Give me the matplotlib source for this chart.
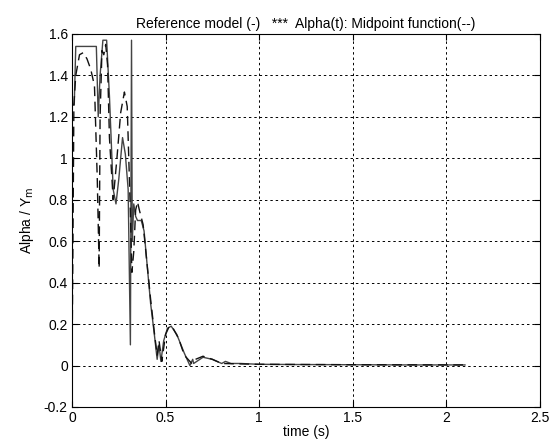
import matplotlib
matplotlib.use('Agg')
import matplotlib.pyplot as plt
import numpy as np

plt.rcParams['font.family'] = ['Liberation Sans', 'DejaVu Sans']

# reference model (solid)
t_ref = [0, 0.001, 0.012, 0.02, 0.13, 0.14, 0.15, 0.165, 0.185, 0.2, 0.22, 0.235, 0.25,
         0.27, 0.285, 0.3, 0.312, 0.318, 0.322, 0.33, 0.34, 0.35, 0.37, 0.385, 0.4, 0.42,
         0.44, 0.455, 0.465, 0.475, 0.49, 0.51, 0.53, 0.56, 0.6, 0.63, 0.645, 0.65, 0.7,
         0.75, 0.8, 0.82, 0.85, 0.9, 1.0, 1.2, 1.5, 1.8, 2.1]
y_ref = [0, 1.26, 1.26, 1.54, 1.54, 1.2, 1.4, 1.57, 1.57, 1.3, 0.85, 0.78, 0.9,
         1.1, 1.02, 0.85, 0.1, 1.57, 0.6, 0.78, 0.72, 0.7, 0.7, 0.65, 0.5, 0.3,
         0.15, 0.03, 0.1, 0.02, 0.12, 0.18, 0.19, 0.15, 0.06, 0.0, 0.03, 0.01, 0.04,
         0.03, 0.01, 0.02, 0.01, 0.01, 0.006, 0.005, 0.004, 0.003, 0.003]

# alpha(t) midpoint function (dashed)
t_alpha = [0, 0.005, 0.01, 0.02, 0.04, 0.06, 0.08, 0.1, 0.12, 0.135, 0.145, 0.15, 0.16,
           0.17, 0.18, 0.19, 0.2, 0.21, 0.22, 0.24, 0.26, 0.28, 0.295, 0.31, 0.32, 0.33,
           0.34, 0.35, 0.36, 0.38, 0.4, 0.42, 0.44, 0.455, 0.465, 0.48, 0.5, 0.52, 0.54,
           0.57, 0.6, 0.64, 0.66, 0.7, 0.75, 0.8, 0.9, 1.0, 1.5, 2.1]
y_alpha = [0, 0.6, 1.26, 1.4, 1.5, 1.51, 1.48, 1.43, 1.35, 0.9, 0.47, 1.2, 1.52,
           1.5, 1.55, 1.45, 1.1, 0.95, 0.8, 1.0, 1.22, 1.32, 1.25, 0.8, 0.45, 0.55,
           0.75, 0.79, 0.75, 0.68, 0.5, 0.32, 0.16, 0.05, 0.12, 0.02, 0.15, 0.19, 0.18,
           0.13, 0.05, 0.01, 0.03, 0.045, 0.03, 0.01, 0.008, 0.006, 0.004, 0.003]

fig = plt.figure(figsize=(5.51, 4.45), dpi=100)
ax = fig.add_axes([0.1307, 0.0854, 0.849, 0.8382])

ax.plot(t_ref, y_ref, '-', color='#444444', lw=1.0)
ax.plot(t_alpha, y_alpha, '--', color='#111111', lw=1.0, dashes=(7, 4))

ax.set_xlim(0, 2.5)
ax.set_ylim(-0.2, 1.6)
ax.set_xticks([0, 0.5, 1, 1.5, 2, 2.5])
ax.set_xticklabels(['0', '0.5', '1', '1.5', '2', '2.5'])
ax.set_yticks(np.arange(-0.2, 1.61, 0.2))
ax.set_yticklabels(['-0.2', '0', '0.2', '0.4', '0.6', '0.8', '1', '1.2', '1.4', '1.6'])
ax.grid(True, color='black', linestyle=(0, (2.5, 3)), lw=0.7)
ax.tick_params(direction='in', top=True, right=True, labelsize=10, length=4, pad=3)
for s in ax.spines.values():
    s.set_linewidth(0.8)

ax.set_xlabel('time (s)', fontsize=10, labelpad=0)
ax.set_ylabel('Alpha / Y$_\\mathrm{m}$', fontsize=10, labelpad=6)
ax.set_title('Reference model (-)   ***  Alpha(t): Midpoint function(--)', fontsize=10, pad=4)

fig.savefig('out.png', dpi=100, facecolor='white')
